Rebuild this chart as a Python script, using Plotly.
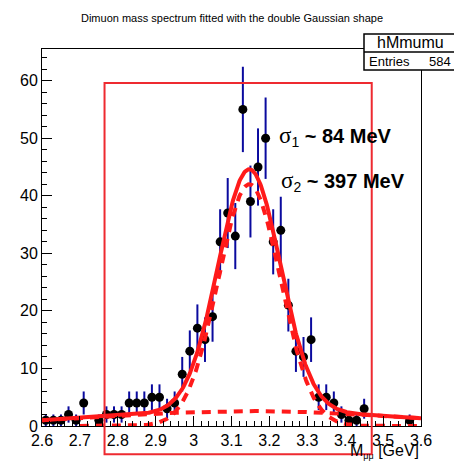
import numpy as np
import plotly.graph_objects as go

# ---------------- data ----------------
bin_centers = [round(2.61 + 0.02 * i, 2) for i in range(50)]
counts = [1, 1, 1, 2, 1, 4, 0, 1, 2, 2, 2, 4, 4, 4, 5, 5, 3, 4,
          9, 13, 17, 15, 19,
          32, 37, 33, 55, 39, 45, 50,
          32, 34, 21, 13, 12, 15,
          5, 5, 4, 2, 1, 1, 3,
          0, 0, 0, 0, 0, 1, 0]

x_tick_vals = [2.6, 2.7, 2.8, 2.9, 3.0, 3.1, 3.2, 3.3, 3.4, 3.5, 3.6]
x_tick_text = ["2.6", "2.7", "2.8", "2.9", "3", "3.1", "3.2", "3.3", "3.4", "3.5", "3.6"]
y_tick_vals = [0, 10, 20, 30, 40, 50, 60]
y_tick_text = ["0", "10", "20", "30", "40", "50", "60"]

# double-Gaussian fit parameters
fit_mean = 3.147
fit_sigma1 = 0.082
fit_amp1 = 42.0
fit_sigma2 = 0.397
fit_amp2 = 2.6

title_text = "Dimuon mass spectrum fitted with the double Gaussian shape"
stats_name = "hMmumu"
stats_entries = "584"

# ---------------- geometry ----------------
W, H = 454, 461
L, R, T, B = 42, 33, 49, 35
XR = [2.6, 3.6]
YR = [0, 65.5]
plot_w = W - L - R
plot_h = H - T - B


def px2paper_x(px):
    return (px - L) / plot_w


def px2paper_y(py):
    return (H - B - py) / plot_h


def data2paper_x(v):
    return (v - XR[0]) / (XR[1] - XR[0])


def data2paper_y(v):
    return (v - YR[0]) / (YR[1] - YR[0])


# ---------------- traces ----------------
xs = [c for c, n in zip(bin_centers, counts) if n > 0]
ys = [n for n in counts if n > 0]
errs = [float(np.sqrt(n)) for n in ys]


def g(x, a, m, s):
    return a * np.exp(-0.5 * ((x - m) / s) ** 2)


xf = np.linspace(2.6, 3.6, 600)
xn = np.linspace(2.7, 3.6, 540)
total = g(xf, fit_amp1, fit_mean, fit_sigma1) + g(xf, fit_amp2, fit_mean, fit_sigma2)
narrow = g(xn, fit_amp1, fit_mean, fit_sigma1)
wide = g(xf, fit_amp2, fit_mean, fit_sigma2)

fig = go.Figure()
fig.add_trace(go.Scatter(
    x=xs, y=ys, mode="markers",
    marker=dict(color="black", size=9),
    error_y=dict(type="data", array=errs, color="#0a0a9e", thickness=2, width=0),
    cliponaxis=False, showlegend=False))
red = "#ff1a1a"
fig.add_trace(go.Scatter(x=xn, y=narrow, mode="lines",
                         line=dict(color=red, width=4, dash="9px,7px"),
                         cliponaxis=False, showlegend=False))
fig.add_trace(go.Scatter(x=xf, y=wide, mode="lines",
                         line=dict(color=red, width=4, dash="9px,7px"),
                         cliponaxis=False, showlegend=False))
fig.add_trace(go.Scatter(x=xf, y=total, mode="lines",
                         line=dict(color=red, width=4),
                         cliponaxis=False, showlegend=False))

font = "Liberation Sans, Arial, Helvetica, sans-serif"

fig.update_layout(
    width=W, height=H,
    margin=dict(l=L, r=R, t=T, b=B, pad=0),
    paper_bgcolor="white", plot_bgcolor="white",
    font=dict(family=font, color="black", size=16),
    hovermode=False,
    title=dict(text=title_text, font=dict(family=font, size=11, color="black"),
               x=232 / W, xanchor="center", xref="container",
               y=1 - 18 / H, yanchor="middle", yref="container"),
    xaxis=dict(range=XR, showgrid=False, zeroline=False,
               showline=True, linecolor="black", linewidth=1, mirror=True,
               ticks="inside", ticklen=10, tickwidth=1, tickcolor="black",
               tickvals=x_tick_vals, ticktext=x_tick_text,
               tickfont=dict(family=font, size=16, color="black"),
               minor=dict(dtick=0.02, tick0=2.6, ticks="inside", ticklen=5,
                          tickcolor="black", tickwidth=1, showgrid=False)),
    yaxis=dict(range=YR, showgrid=False, zeroline=False,
               showline=True, linecolor="black", linewidth=1, mirror=True,
               ticks="inside", ticklen=10, tickwidth=1, tickcolor="black",
               tickvals=y_tick_vals, ticktext=y_tick_text,
               tickfont=dict(family=font, size=16, color="black"),
               minor=dict(dtick=2, tick0=0, ticks="inside", ticklen=5,
                          tickcolor="black", tickwidth=1, showgrid=False)),
)

# red selection rectangle (data-based corners)
rect_x0, rect_x1, rect_y0, rect_y1 = 2.765, 3.47, -4.9, 59.6
fig.add_shape(type="rect", xref="paper", yref="paper",
              x0=data2paper_x(rect_x0), x1=data2paper_x(rect_x1),
              y0=data2paper_y(rect_y0), y1=data2paper_y(rect_y1),
              line=dict(color="#ee2a30", width=2), fillcolor="rgba(0,0,0,0)",
              layer="above")

# stats box
sb_l, sb_r, sb_t, sb_m, sb_b = 364, 458, 34, 52, 70
fig.add_shape(type="rect", xref="paper", yref="paper",
              x0=px2paper_x(sb_l), x1=px2paper_x(sb_r),
              y0=px2paper_y(sb_b), y1=px2paper_y(sb_t),
              line=dict(color="black", width=1.5), fillcolor="white", layer="above")
fig.add_shape(type="line", xref="paper", yref="paper",
              x0=px2paper_x(sb_l), x1=px2paper_x(sb_r),
              y0=px2paper_y(sb_m), y1=px2paper_y(sb_m),
              line=dict(color="black", width=1.5), layer="above")
fig.add_annotation(xref="paper", yref="paper", x=px2paper_x(410), y=px2paper_y((sb_t + sb_m) / 2),
                   text=stats_name, showarrow=False, xanchor="center", yanchor="middle",
                   font=dict(family=font, size=16, color="black"))
fig.add_annotation(xref="paper", yref="paper", x=px2paper_x(367), y=px2paper_y((sb_m + sb_b) / 2),
                   text="Entries", showarrow=False, xanchor="left", yanchor="middle",
                   font=dict(family=font, size=13, color="black"))
fig.add_annotation(xref="paper", yref="paper", x=px2paper_x(453), y=px2paper_y((sb_m + sb_b) / 2),
                   text=stats_entries, showarrow=False, xanchor="right", yanchor="middle",
                   font=dict(family=font, size=13, color="black"))

# sigma labels
sig = '<span style="font-family:Liberation Serif;font-size:23px">σ</span>'
fig.add_annotation(xref="paper", yref="paper", x=px2paper_x(277), y=px2paper_y(136),
                   text=sig + "<sub>1</sub><b> ~ 84 MeV</b>", showarrow=False,
                   xanchor="left", yanchor="middle",
                   font=dict(family=font, size=20, color="black"))
fig.add_annotation(xref="paper", yref="paper", x=px2paper_x(279), y=px2paper_y(182),
                   text=sig + "<sub>2</sub><b> ~ 397 MeV</b>", showarrow=False,
                   xanchor="left", yanchor="middle",
                   font=dict(family=font, size=20, color="black"))

# x-axis title, right aligned at the axis end
fig.add_annotation(xref="paper", yref="paper", x=1.0, y=px2paper_y(452),
                   text='M<sub><span style="font-size:9px">μμ</span></sub> [GeV]', showarrow=False,
                   xanchor="right", yanchor="middle",
                   font=dict(family=font, size=16, color="black"))

fig.write_html("out.html", config={"displayModeBar": False, "staticPlot": True},
               post_script="document.body.style.margin='0';")
